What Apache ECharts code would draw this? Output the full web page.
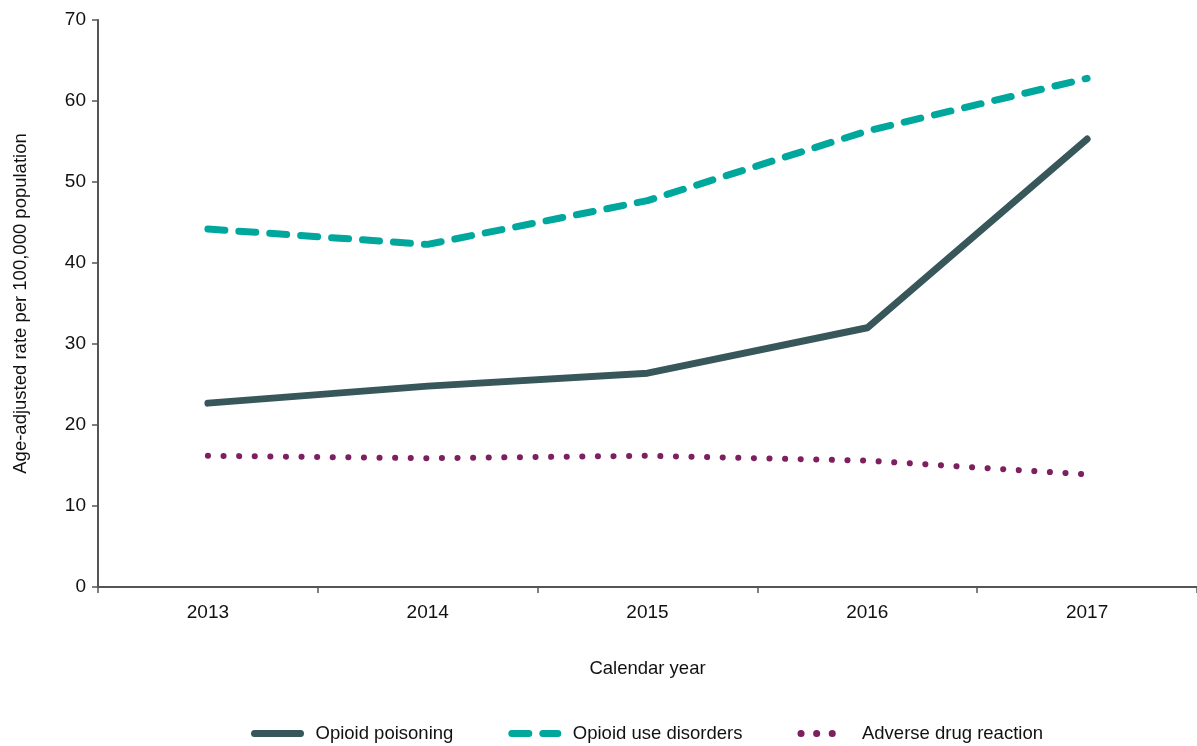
<!doctype html>
<html>
<head>
    <meta charset="utf-8">
    <title>Opioid rates</title>
    <style>
        html, body { margin: 0; padding: 0; background: #fff; }
        #chart { width: 1197px; height: 746px; }
    </style>
</head>
<body>
    <div id="chart"></div>
    <script src="https://cdn.jsdelivr.net/npm/echarts@6/dist/echarts.min.js"></script>
    <script>
        var years = ['2013', '2014', '2015', '2016', '2017'];
        var poisoning = [22.7, 24.8, 26.4, 32.0, 55.3];
        var useDisorders = [44.2, 42.3, 47.7, 56.3, 62.8];
        var adverse = [16.2, 15.9, 16.2, 15.6, 13.9];

        var font = '"Liberation Sans", Arial, sans-serif';
        var axisColor = '#555555';

        var chart = echarts.init(document.getElementById('chart'));
        var option = {
            animation: false,
            grid: { left: 98, right: 0, top: 20, bottom: 159 },
            legend: {
                bottom: -2,
                left: 246,
                itemWidth: 46,
                itemHeight: 14,
                itemGap: 55,
                itemStyle: { opacity: 0 },
                lineStyle: { width: 7, cap: 'round' },
                textStyle: { fontFamily: font, fontSize: 18.5, color: '#111', padding: [0, 0, 0, 10] },
                data: ['Opioid poisoning', 'Opioid use disorders', 'Adverse drug reaction']
            },
            xAxis: {
                type: 'category',
                data: years,
                boundaryGap: true,
                name: 'Calendar year',
                nameLocation: 'middle',
                nameGap: 72,
                nameTextStyle: { fontFamily: font, fontSize: 18.5, color: '#111' },
                axisLine: { lineStyle: { color: axisColor, width: 2 } },
                axisTick: { show: true, length: 6, lineStyle: { color: axisColor, width: 1.5 } },
                axisLabel: { fontFamily: font, fontSize: 19, color: '#111', margin: 16 }
            },
            yAxis: {
                type: 'value',
                min: 0,
                max: 70,
                interval: 10,
                name: 'Age-adjusted rate per 100,000 population',
                nameLocation: 'middle',
                nameGap: 68,
                nameTextStyle: { fontFamily: font, fontSize: 18.5, color: '#111' },
                axisLine: { show: true, lineStyle: { color: axisColor, width: 2 } },
                axisTick: { show: true, length: 6, lineStyle: { color: axisColor, width: 1.5 } },
                axisLabel: { fontFamily: font, fontSize: 19, color: '#111', margin: 12 },
                splitLine: { show: false }
            },
            series: [
                {
                    name: 'Opioid poisoning',
                    type: 'line',
                    data: poisoning,
                    symbol: 'none',
                    color: '#37575a',
                    lineStyle: { width: 7, color: '#37575a', cap: 'round', join: 'round' }
                },
                {
                    name: 'Opioid use disorders',
                    type: 'line',
                    data: useDisorders,
                    symbol: 'none',
                    color: '#00a79c',
                    lineStyle: { width: 7, color: '#00a79c', type: [17, 14], cap: 'round', join: 'round' }
                },
                {
                    name: 'Adverse drug reaction',
                    type: 'line',
                    data: adverse,
                    symbol: 'none',
                    color: '#7e1f5f',
                    lineStyle: { width: 6, color: '#7e1f5f', type: [0.1, 15.5], cap: 'round', join: 'round' }
                }
            ]
        };
        chart.setOption(option);
    </script>
</body>
</html>
